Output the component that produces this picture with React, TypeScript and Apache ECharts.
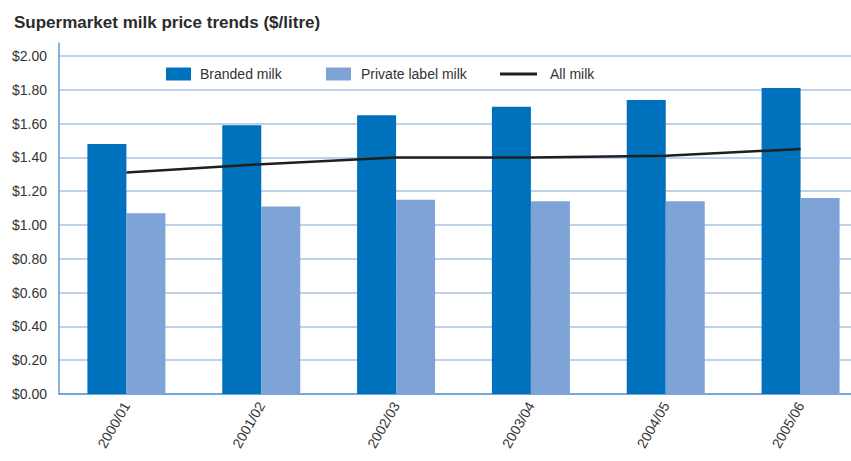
import { useEffect, useRef } from "react";
import * as echarts from "echarts";

const years = ["2000/01", "2001/02", "2002/03", "2003/04", "2004/05", "2005/06"];
const branded = [1.48, 1.59, 1.65, 1.7, 1.74, 1.81];
const privateLabel = [1.07, 1.11, 1.15, 1.14, 1.14, 1.16];
const allMilk = [1.31, 1.36, 1.4, 1.4, 1.41, 1.45];

const TEXT = "#333333";
const FONT = "'Liberation Sans', Arial, sans-serif";

export default function App() {
  const hostRef = useRef<HTMLDivElement>(null);

  useEffect(() => {
    document.body.style.margin = "0";
    const el = hostRef.current;
    if (!el) return;
    const chart = echarts.init(el, undefined, { renderer: "svg" });

    const legendText = { fontSize: 14, color: TEXT, fontFamily: FONT };

    chart.setOption({
      animation: false,
      backgroundColor: "#ffffff",
      title: {
        text: "Supermarket milk price trends ($/litre)",
        left: 9,
        top: 9,
        textStyle: {
          fontSize: 17,
          fontWeight: "bold",
          color: "#2b2b2b",
          fontFamily: "'Liberation Sans Narrow', 'Arial Narrow', sans-serif",
        },
      },
      legend: [
        {
          left: 161,
          top: 62,
          itemWidth: 25,
          itemHeight: 13,
          textStyle: { ...legendText, padding: [0, 0, 0, 4] },
          data: [{ name: "Branded milk", icon: "rect" }],
        },
        {
          left: 321,
          top: 62,
          itemWidth: 25,
          itemHeight: 13,
          textStyle: { ...legendText, padding: [0, 0, 0, 5] },
          data: [{ name: "Private label milk", icon: "rect" }],
        },
        {
          left: 495,
          top: 62,
          itemWidth: 37,
          itemHeight: 3,
          textStyle: { ...legendText, padding: [0, 0, 0, 8] },
          data: [{ name: "All milk", icon: "rect" }],
        },
      ],
      grid: {
        left: 59,
        top: 43,
        height: 351,
        width: 809,
        containLabel: false,
        outerBoundsMode: "none",
      },
      xAxis: {
        type: "category",
        data: years,
        axisLine: { lineStyle: { color: "#5b9bd5", width: 1.5 } },
        axisTick: { show: false },
        axisLabel: {
          rotate: 60,
          margin: 9,
          fontSize: 14,
          color: TEXT,
          fontFamily: FONT,
        },
      },
      yAxis: {
        type: "value",
        min: 0,
        max: 2.077,
        interval: 0.2,
        axisLine: { show: true, lineStyle: { color: "#5b9bd5", width: 1.5 } },
        axisTick: { show: false },
        axisLabel: {
          margin: 12,
          fontSize: 14,
          color: TEXT,
          fontFamily: FONT,
          showMaxLabel: false,
          formatter: (v: number) => (v > 2.01 ? "" : "$" + v.toFixed(2)),
        },
        splitLine: {
          showMaxLine: false,
          lineStyle: { color: "#a9c3e6", width: 1.5 },
        },
      },
      series: [
        {
          name: "Branded milk",
          type: "bar",
          barWidth: 39,
          barGap: "0%",
          itemStyle: { color: "#0071bc" },
          data: branded,
        },
        {
          name: "Private label milk",
          type: "bar",
          barWidth: 39,
          barGap: "0%",
          itemStyle: { color: "#7ea3d7" },
          data: privateLabel,
        },
        {
          name: "All milk",
          type: "line",
          showSymbol: false,
          symbol: "none",
          color: "#1f1f1f",
          lineStyle: { width: 2.5, color: "#1f1f1f" },
          itemStyle: { color: "#1f1f1f" },
          z: 5,
          data: allMilk,
        },
      ],
    });

    return () => chart.dispose();
  }, []);

  return <div ref={hostRef} style={{ width: 851, height: 461 }} />;
}
